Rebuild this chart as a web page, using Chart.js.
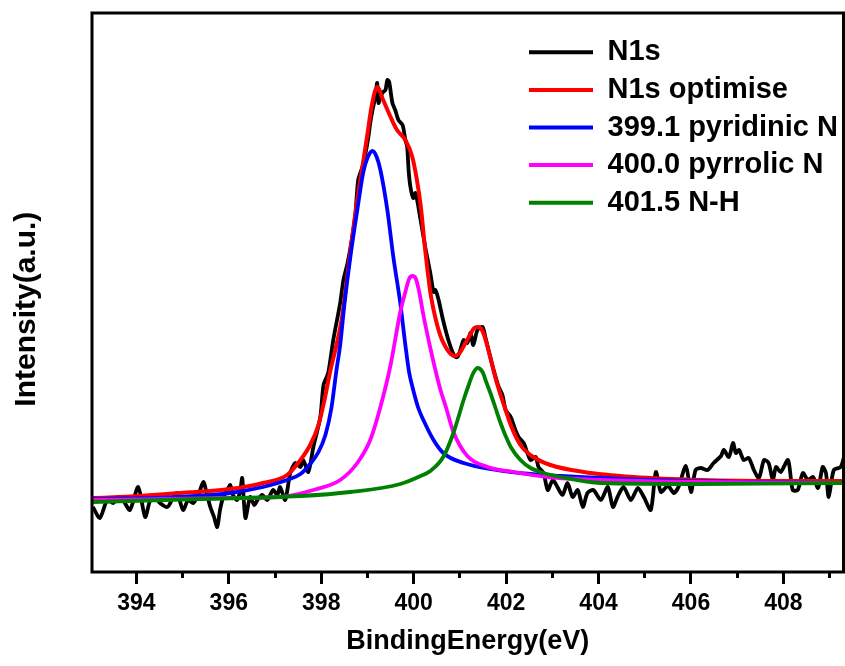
<!DOCTYPE html>
<html><head><meta charset="utf-8">
<script src="https://cdn.jsdelivr.net/npm/chart.js@4.4.1/dist/chart.umd.min.js"></script>
<style>html,body{margin:0;padding:0;background:#fff}#wrap{width:845px;height:666px;position:relative}</style>
</head><body><div id="wrap"><canvas id="c"></canvas></div>
<script>
const FONT = '"Liberation Sans", Arial, Helvetica, sans-serif';

const seriesNames = ['N1s', 'N1s optimise', '399.1 pyridinic N', '400.0 pyrrolic N', '401.5 N-H'];
const seriesColors = ['#000000', '#ff0000', '#0000ff', '#ff00ff', '#008000'];

const xMajorTicks = [394, 396, 398, 400, 402, 404, 406, 408];
const xMajorLabels = ['394', '396', '398', '400', '402', '404', '406', '408'];
const xMinorTicks = [395, 397, 399, 401, 403, 405, 407, 409];

// Measured spectrum (N1s)
const n1sX = [
 393.06,393.21,393.37,393.50,393.60,393.71,393.86,394.04,394.19,394.30,
 394.40,394.51,394.67,394.77,394.88,395.01,395.12,395.23,395.34,395.45,
 395.53,395.60,395.68,395.75,395.81,395.88,395.97,396.03,396.09,396.18,
 396.25,396.29,396.36,396.46,396.55,396.62,396.72,396.83,396.96,397.05,
 397.11,397.22,397.33,397.44,397.55,397.61,397.72,397.83,397.98,398.05,
 398.15,398.26,398.41,398.48,398.57,398.67,398.74,398.80,398.89,398.96,
 399.02,399.06,399.11,399.17,399.21,399.24,399.28,399.34,399.39,399.43,
 399.47,399.54,399.60,399.67,399.76,399.82,399.86,399.89,399.93,399.99,
 400.04,400.15,400.25,400.36,400.43,400.47,400.54,400.62,400.69,400.75,
 400.84,400.90,400.95,401.01,401.08,401.16,401.23,401.29,401.38,401.49,
 401.55,401.62,401.73,401.84,401.92,401.99,402.10,402.20,402.27,402.38,
 402.46,402.53,402.64,402.70,402.81,402.90,403.01,403.11,403.22,403.33,
 403.44,403.55,403.66,403.76,403.89,404.05,404.20,404.31,404.41,404.54,
 404.70,404.85,404.98,405.13,405.24,405.35,405.50,405.63,405.73,405.89,
 406.00,406.10,406.21,406.36,406.49,406.65,406.71,406.82,406.91,406.97,
 407.04,407.14,407.25,407.36,407.47,407.58,407.68,407.77,407.84,407.94,
 408.10,408.20,408.31,408.42,408.53,408.64,408.75,408.85,408.92,408.98,
 409.09,409.24,409.31];
const n1sY = [
 65,54,72,69,75,72,62,85,55,72,
 75,69,65,72,79,62,72,69,77,90,
 77,65,55,45,62,75,82,87,77,72,
 82,94,54,75,67,72,77,72,82,77,
 85,72,99,109,105,112,100,125,155,187,
 199,232,269,292,309,335,359,392,405,419,
 435,449,462,475,489,469,475,480,482,492,
 490,469,462,452,447,432,425,402,385,374,
 379,352,325,299,280,282,272,255,242,232,
 220,215,215,222,232,229,239,227,242,245,
 235,222,202,185,177,162,155,142,135,129,
 119,112,115,105,99,82,92,85,77,89,
 75,82,65,79,82,72,85,65,75,85,
 72,84,75,62,100,80,86,79,85,106,
 80,102,104,102,109,116,122,115,129,119,
 122,112,114,102,94,112,109,92,105,100,
 112,82,82,99,92,95,84,105,99,75,
 102,105,115];

// Fitted envelope (N1s optimise)
const fitX = [393.06,394.08,394.95,396.03,396.74,397.26,397.55,397.76,397.94,398.07,
 398.20,398.33,398.45,398.56,398.67,398.77,398.88,398.99,399.10,399.21,
 399.34,399.50,399.64,399.82,399.97,400.07,400.15,400.25,400.36,400.47,
 400.58,400.69,400.80,400.90,401.01,401.12,401.23,401.31,401.40,401.49,
 401.57,401.66,401.77,401.88,401.99,402.10,402.31,402.59,402.96,403.68,
 404.76,406.21,407.84,409.30];
const fitY = [74,76,79,83,89,97,112,127,147,172,
 202,227,255,295,335,369,402,435,468,485,
 472,455,442,432,415,392,367,322,280,254,
 236,225,218,216,220,229,238,244,245,241,
 230,214,194,177,162,147,127,115,107,100,
 95,92,91,91];

// Component 399.1 pyridinic N
const pyridinicX = [393.06,394.95,396.03,396.74,397.26,397.55,397.76,397.94,398.09,398.22,
 398.33,398.41,398.50,398.63,398.78,398.91,399.00,399.11,399.20,399.28,
 399.43,399.56,399.71,399.82,399.90,399.99,400.10,400.21,400.43,400.64,
 401.08,401.81,402.53,403.18,405.13,407.29,409.30];
const pyridinicY = [73,75,79,85,92,98,108,120,137,164,
 202,227,267,315,362,400,414,421,415,402,
 362,315,269,227,200,182,164,152,132,119,
 109,102,98,96,92,90,89];

// Component 400.0 pyrrolic N
const pyrrolicX = [393.06,396.03,397.11,397.83,398.41,398.78,399.06,399.28,399.50,399.71,
 399.82,399.90,399.97,400.04,400.12,400.21,400.36,400.47,400.58,400.69,
 400.86,401.16,401.60,402.16,402.90,404.05,406.21,409.30];
const pyrrolicY = [72,74,75,82,92,109,132,165,207,260,
 280,293,296,294,280,257,224,202,182,166,
 140,116,105,100,95,92,90,89];

// Component 401.5 N-H
const nhX = [393.06,395.38,397.55,398.63,399.71,400.15,400.36,400.64,400.86,401.08,
 401.19,401.28,401.38,401.49,401.57,401.66,401.77,401.88,401.99,402.10,
 402.31,402.53,402.81,403.18,404.05,406.21,409.30];
const nhY = [70,73,76,80,88,96,101,115,139,172,
 187,198,204,200,190,179,164,149,136,125,
 112,104,99,95,89,88,89];

function pts(xs, ys) { return xs.map((x, i) => ({ x: x, y: ys[i] })); }

const framePlugin = {
  id: 'frame',
  afterDatasetsDraw(chart) {
    const { ctx, chartArea: a } = chart;
    ctx.save();
    ctx.strokeStyle = '#000';
    ctx.lineWidth = 3;
    ctx.strokeRect(a.left, a.top, a.right - a.left, a.bottom - a.top);
    ctx.restore();
  }
};

const legendPlacer = {
  id: 'legendPlacer',
  afterLayout(chart) {
    const l = chart.legend;
    if (!l) return;
    l.left = 520.4;
    l.top = 29.2;
    l.right = 845;
    l.bottom = 572;
  }
};

const fitStyle = { pointRadius: 0, borderWidth: 3.8, fill: false, cubicInterpolationMode: 'monotone' };

new Chart(document.getElementById('c'), {
  type: 'line',
  data: {
    datasets: [
      { label: seriesNames[0], data: pts(n1sX, n1sY), borderColor: seriesColors[0], backgroundColor: seriesColors[0], pointRadius: 0, borderWidth: 3.8, tension: 0.25, order: 5 },
      Object.assign({ label: seriesNames[1], data: pts(fitX, fitY), borderColor: seriesColors[1], backgroundColor: seriesColors[1], order: 4 }, fitStyle, { borderWidth: 4 }),
      Object.assign({ label: seriesNames[2], data: pts(pyridinicX, pyridinicY), borderColor: seriesColors[2], backgroundColor: seriesColors[2], order: 3 }, fitStyle),
      Object.assign({ label: seriesNames[3], data: pts(pyrrolicX, pyrrolicY), borderColor: seriesColors[3], backgroundColor: seriesColors[3], order: 2 }, fitStyle),
      Object.assign({ label: seriesNames[4], data: pts(nhX, nhY), borderColor: seriesColors[4], backgroundColor: seriesColors[4], order: 1 }, fitStyle)
    ]
  },
  options: {
    responsive: true,
    maintainAspectRatio: false,
    animation: false,
    devicePixelRatio: 1,
    layout: { padding: { left: 0, right: 1.5, top: 13, bottom: 0 } },
    plugins: {
      tooltip: { enabled: false },
      legend: {
        display: true,
        position: 'chartArea',
        align: 'start',
        labels: {
          boxWidth: 64,
          boxHeight: 4,
          padding: 8.6,
          color: '#000',
          font: { family: FONT, size: 29, weight: 'bold' },
          sort: (a, b) => a.datasetIndex - b.datasetIndex,
          generateLabels(chart) {
            const items = Chart.defaults.plugins.legend.labels.generateLabels(chart);
            return items.map(it => Object.assign(it, { lineWidth: 0, fillStyle: it.strokeStyle }));
          }
        }
      }
    },
    scales: {
      x: {
        type: 'linear', position: 'bottom', weight: 0,
        min: 393.04, max: 409.3,
        afterBuildTicks(s) { s.ticks = xMajorTicks.map(v => ({ value: v })); },
        ticks: {
          autoSkip: false, maxRotation: 0, padding: 6, color: '#000',
          font: { family: FONT, size: 23, weight: 'bold' },
          callback: (v) => { const i = xMajorTicks.indexOf(v); return i >= 0 ? xMajorLabels[i] : ''; }
        },
        grid: { display: true, drawOnChartArea: false, drawTicks: true, tickLength: 12, tickWidth: 3, tickColor: '#000' },
        border: { display: false },
        title: { display: true, text: 'BindingEnergy(eV)', color: '#000', font: { family: FONT, size: 27, weight: 'bold' }, padding: { top: 0, bottom: 8 } },
        afterFit(s) { s.height = 94; }
      },
      x2: {
        type: 'linear', position: 'bottom', weight: -1,
        min: 393.04, max: 409.3,
        afterBuildTicks(s) { s.ticks = xMinorTicks.map(v => ({ value: v })); },
        ticks: { display: false },
        grid: { display: true, drawOnChartArea: false, drawTicks: true, tickLength: 6, tickWidth: 3, tickColor: '#000' },
        border: { display: false },
        afterFit(s) { s.height = 0; }
      },
      y: {
        type: 'linear', position: 'left',
        min: 0, max: 559,
        ticks: { display: false },
        grid: { display: false, drawTicks: false },
        border: { display: false },
        title: { display: true, text: 'Intensity(a.u.)    ', color: '#000', font: { family: FONT, size: 30, weight: 'bold' }, padding: { top: 9, bottom: 0 } },
        afterFit(s) { s.width = 92; }
      }
    }
  },
  plugins: [legendPlacer, framePlugin]
});
</script>
</body></html>
